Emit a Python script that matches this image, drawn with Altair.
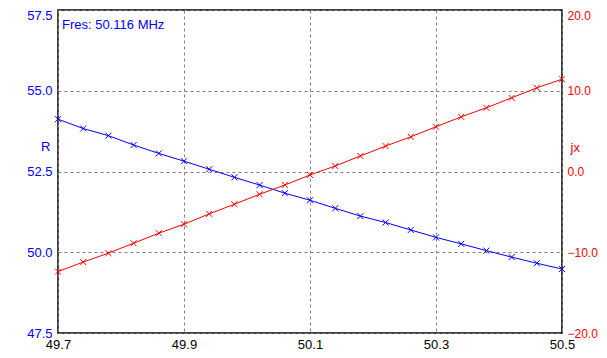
import altair as alt
import pandas as pd

freq = [49.70, 49.74, 49.78, 49.82, 49.86, 49.90, 49.94, 49.98, 50.02, 50.06, 50.10,
        50.14, 50.18, 50.22, 50.26, 50.30, 50.34, 50.38, 50.42, 50.46, 50.50]
r_vals = [54.12, 53.83, 53.61, 53.32, 53.06, 52.82, 52.57, 52.32, 52.08, 51.83, 51.61,
          51.36, 51.12, 50.92, 50.69, 50.46, 50.26, 50.05, 49.85, 49.66, 49.48]
jx_vals = [-12.39, -11.22, -10.11, -8.88, -7.64, -6.53, -5.25, -4.05, -2.82, -1.67, -0.43,
           0.68, 1.92, 3.15, 4.30, 5.54, 6.77, 7.89, 9.12, 10.36, 11.43]
x_ticks = [49.7, 49.9, 50.1, 50.3, 50.5]
r_ticks = [47.5, 50.0, 52.5, 55.0, 57.5]
jx_ticks = [-20.0, -10.0, 0.0, 10.0, 20.0]
fres_label = "Fres: 50.116 MHz"

FONT = "Liberation Sans"
BLUE = "#0000ff"
RED = "#ff0000"
XMARK = "M-1,-1L1,1M-1,1L1,-1"

df = pd.DataFrame({"f": freq, "R": r_vals, "jx": jx_vals})

x_enc = alt.X(
    "f:Q",
    scale=alt.Scale(domain=[49.7, 50.5], nice=False, zero=False),
    axis=alt.Axis(
        values=x_ticks, format=".1f", title=None, grid=True, gridColor="#808080",
        gridDash=[3, 3], ticks=False, domain=False, labelFlush=False, labelOverlap=False,
        labelColor="black", labelFont=FONT, labelFontSize=13, labelPadding=5,
    ),
)

y_r = alt.Y(
    "R:Q",
    scale=alt.Scale(domain=[47.5, 57.5], nice=False, zero=False),
    axis=alt.Axis(
        values=r_ticks, format=".1f", title="R", grid=True, gridColor="#808080",
        gridDash=[3, 3], ticks=False, domain=False, labelOverlap=False,
        labelColor=BLUE, labelFont=FONT, labelFontSize=13, labelPadding=6,
        labelOffset={"expr": "datum.value == 57.5 ? 5 : 0"},
        titleAngle=0, titleAlign="right", titleBaseline="middle", titleX=-8, titleY=136,
        titleColor=BLUE, titleFont=FONT, titleFontSize=13, titleFontWeight="normal",
    ),
)

y_jx = alt.Y(
    "jx:Q",
    scale=alt.Scale(domain=[-20, 20], nice=False, zero=False),
    axis=alt.Axis(
        orient="right", values=jx_ticks, format=".1f", title="jx", grid=False,
        ticks=False, domain=False, labelOverlap=False,
        labelColor=RED, labelFont=FONT, labelFontSize=12, labelPadding=5,
        labelOffset={"expr": "datum.value == 20 ? 5 : 0"},
        titleAngle=0, titleAlign="left", titleBaseline="middle", titleX=8, titleY=137,
        titleColor=RED, titleFont=FONT, titleFontSize=13, titleFontWeight="normal",
    ),
)

base = alt.Chart(df)

left = alt.layer(
    base.mark_line(color=BLUE, strokeWidth=1).encode(x=x_enc, y=y_r),
    base.mark_point(shape=XMARK, size=36, color=BLUE, filled=False, strokeWidth=1,
                    opacity=1).encode(x=x_enc, y=y_r),
)
right = alt.layer(
    base.mark_line(color=RED, strokeWidth=1).encode(x=x_enc, y=y_jx),
    base.mark_point(shape=XMARK, size=36, color=RED, filled=False, strokeWidth=1,
                    opacity=1).encode(x=x_enc, y=y_jx),
)

label = alt.Chart(pd.DataFrame({"t": [fres_label]})).mark_text(
    align="left", baseline="middle", color=BLUE, font=FONT, fontSize=13
).encode(x=alt.value(4), y=alt.value(15), text="t:N")

chart = alt.layer(left, right, label).resolve_scale(y="independent").properties(
    width=504, height=323,
    padding={"left": 50, "top": 2, "right": 37, "bottom": 17},
    autosize="none",
    background="white",
).configure_view(stroke="black", strokeWidth=1.5)

chart.save("out.html", embed_options={"renderer": "svg", "actions": False})
